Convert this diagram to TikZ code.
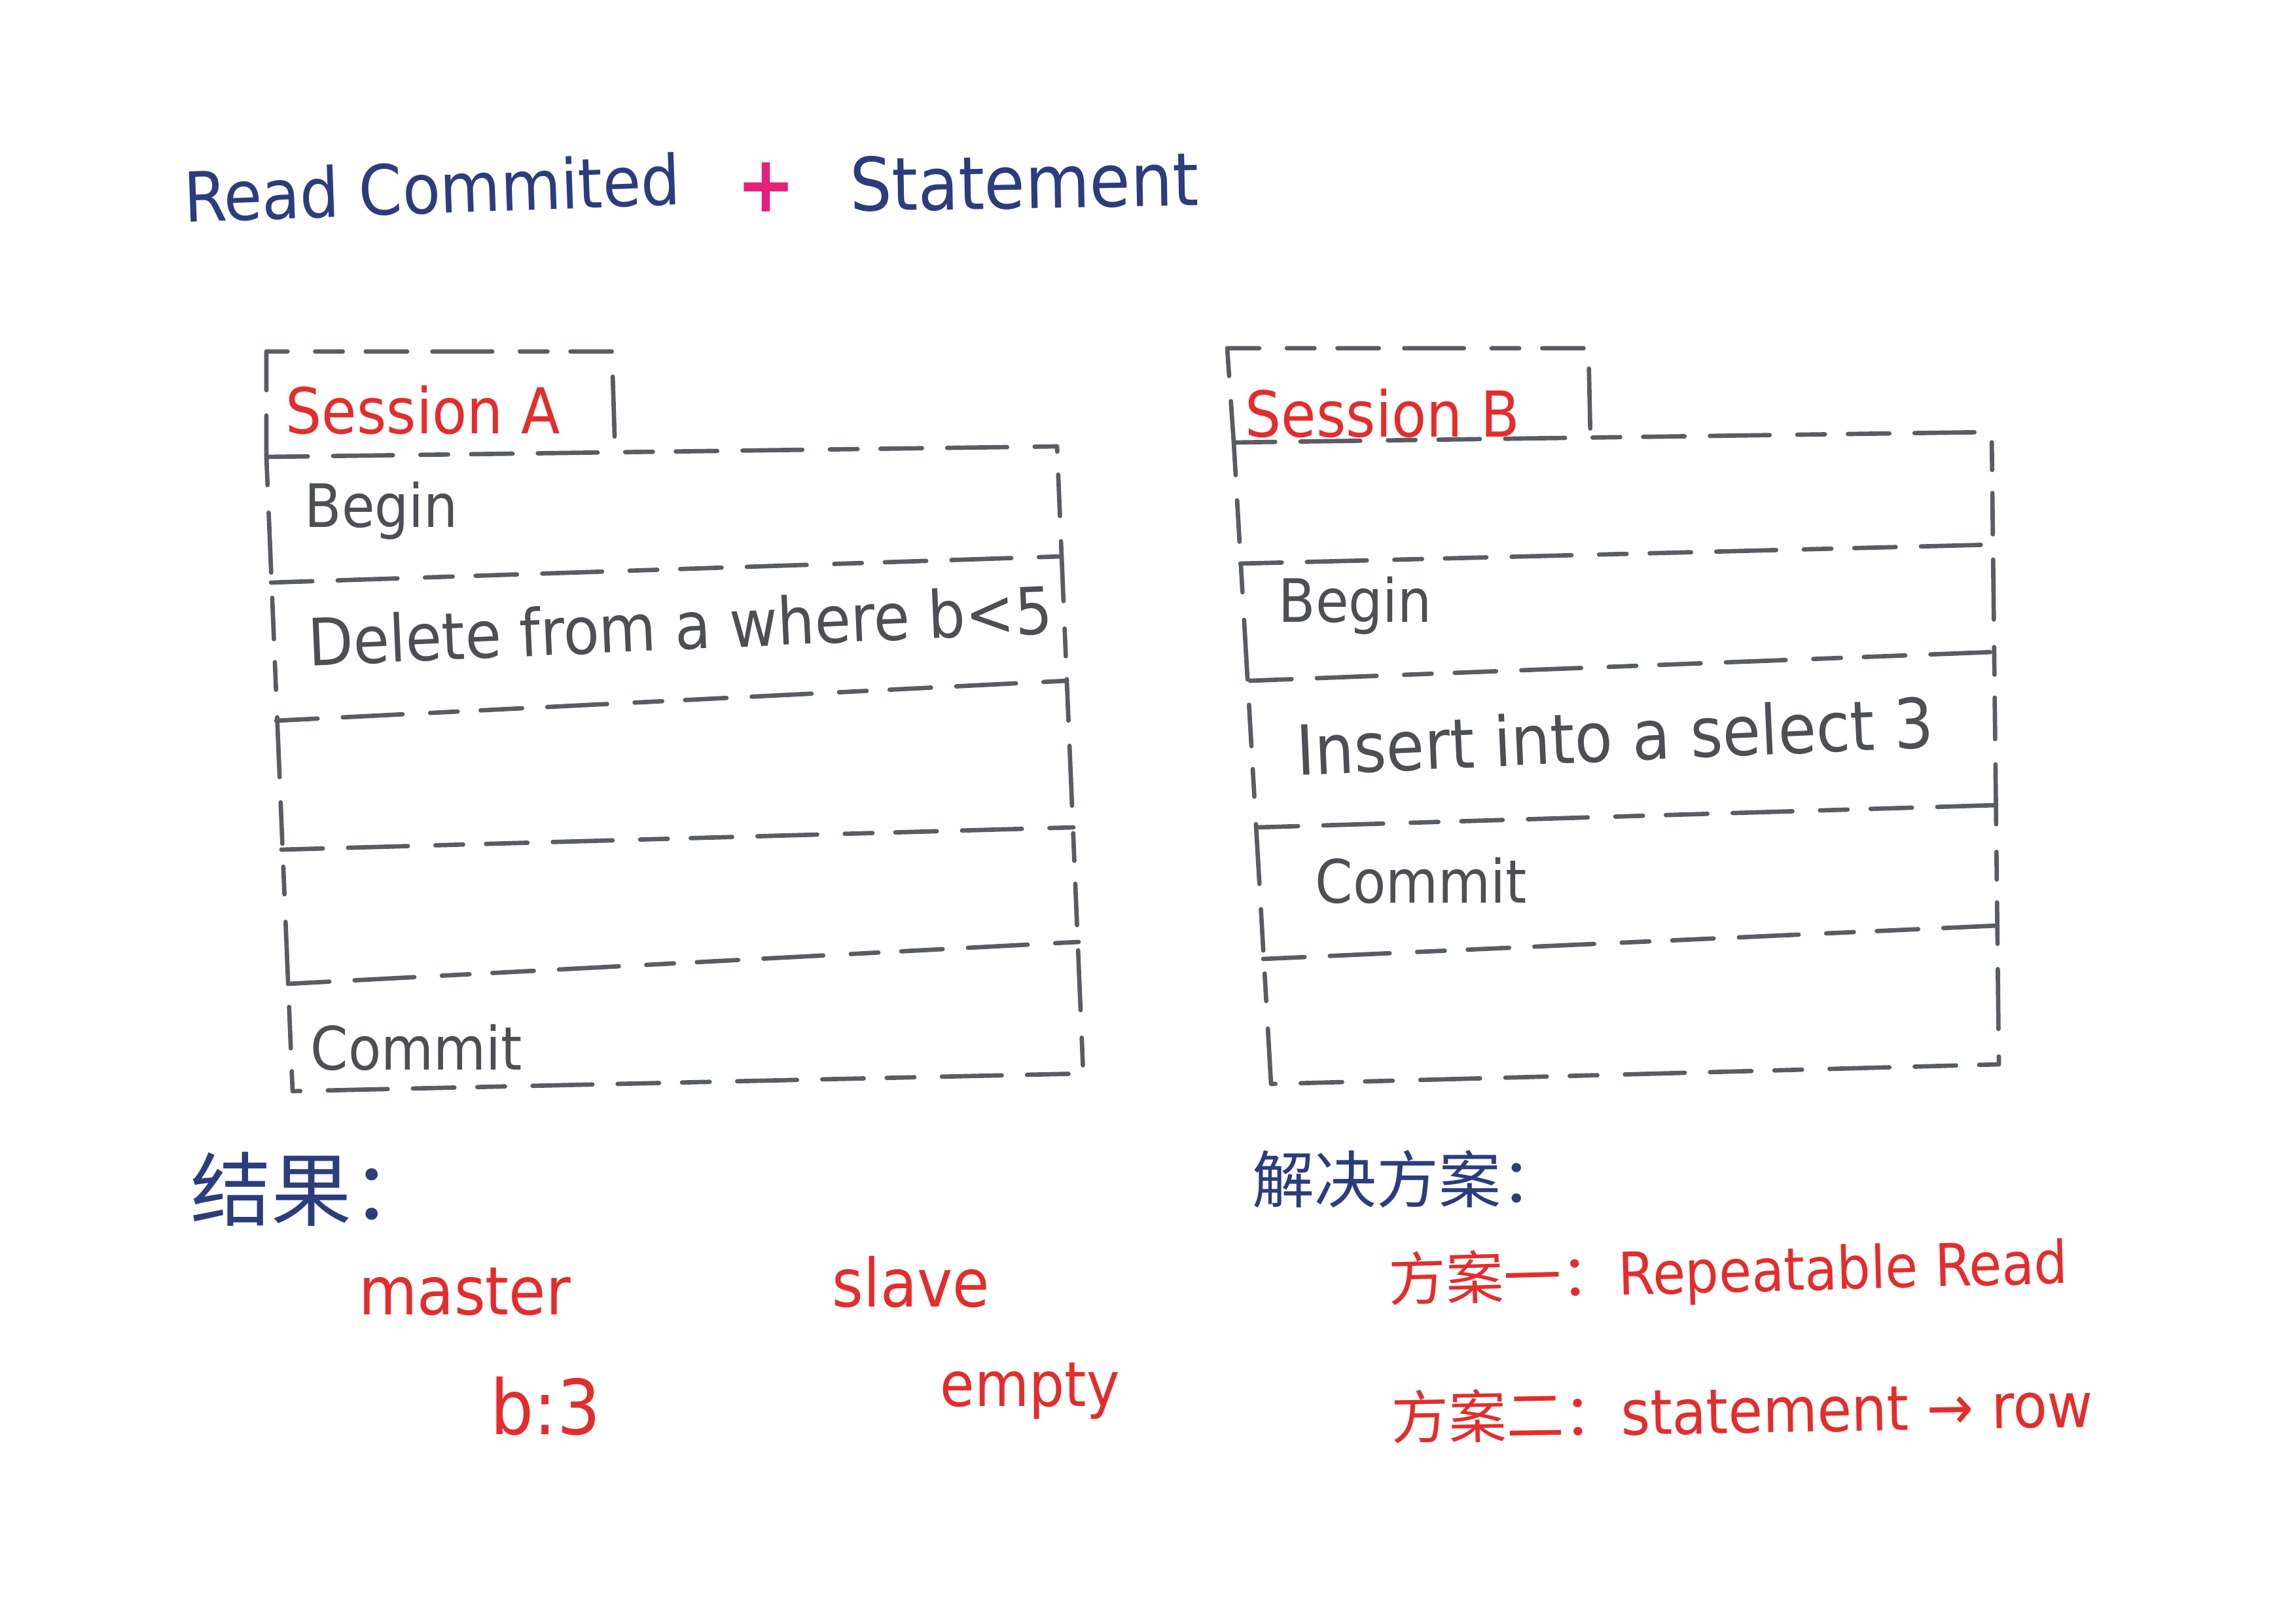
\documentclass[tikz,border=0pt]{standalone}
\usepackage{fontspec}
\setmainfont{DejaVu Sans Condensed}
\newfontfamily\cjk{Noto Sans CJK SC}
\usetikzlibrary{positioning}
\definecolor{ink}{HTML}{4D4F54}
\definecolor{penblue}{HTML}{2B3D7D}
\definecolor{penred}{HTML}{E32D2D}
\definecolor{penpink}{HTML}{E4217D}
\definecolor{rule}{HTML}{595C62}

\begin{document}
\begin{tikzpicture}[
  line cap=round, line join=round,
  hand/.style={draw=rule, line width=1.9pt,
               dash pattern=on 18pt off 11pt on 26pt off 12pt on 12pt off 10pt},
  ttl/.style={penblue, font=\fontsize{30}{32}\selectfont, anchor=west, inner sep=0pt},
  tabtxt/.style={penred, font=\fontsize{27.5}{29}\selectfont, anchor=west, inner sep=0pt},
  rowtxt/.style={ink, font=\fontsize{26}{28}\selectfont, anchor=west, inner sep=0pt},
  head/.style={penblue, font=\cjk\fontsize{35}{37}\selectfont, anchor=west, inner sep=0pt},
  note/.style={penred, font=\fontsize{29}{31}\selectfont, anchor=west, inner sep=0pt}]

\useasboundingbox (0,0) rectangle (35.08,-24.80);

% ==================================================== title
\node[ttl, rotate=2] (rc) at (2.80,-3.00) {Read Commited};
\node[ttl, penpink, font=\bfseries\fontsize{34}{36}\selectfont] (plus) at (11.25,-2.86) {+};
\node[ttl, rotate=1, font=\fontsize{32}{34}\selectfont] (stm) at (12.98,-2.82) {Statement};

% ==================================================== left: session A
\begin{scope}
  % the tab and the frame
  \draw[hand] (4.07,-6.98) -- (4.07,-5.37) -- (9.35,-5.37) -- (9.40,-6.98);
  \draw[hand] (4.07,-6.98) -- (16.15,-6.82) -- (16.55,-16.40) -- (4.47,-16.67) -- cycle;
  \foreach \xa/\ya/\xb/\yb in {4.14/-8.90/16.22/-8.50, 4.22/-11.01/16.30/-10.40,
                               4.30/-12.98/16.40/-12.64, 4.40/-15.03/16.48/-14.39}
    \draw[hand] (\xa,\ya) -- (\xb,\yb);

  \node[tabtxt] (sesA) at (4.36,-6.26) {Session A};
  \node[rowtxt] (beginA) at (4.65,-7.80) {Begin};
  \node[rowtxt, rotate=2.5, font=\fontsize{28.4}{30}\selectfont] (delA) at (4.70,-9.80)
    {Delete from a where b<5};
  \node[rowtxt] (commitA) at (4.74,-16.00) {Commit};
\end{scope}

% ==================================================== right: session B
\begin{scope}
  % the tab and the frame
  \draw[hand] (18.85,-6.76) -- (18.75,-5.32) -- (24.27,-5.32) -- (24.30,-6.72);
  \draw[hand] (18.85,-6.76) -- (30.43,-6.60) -- (30.54,-16.26) -- (19.42,-16.56) -- cycle;
  \foreach \xa/\ya/\xb/\yb in {18.95/-8.61/30.45/-8.32, 19.10/-10.40/30.47/-9.96,
                               19.20/-12.64/30.50/-12.30, 19.30/-14.65/30.52/-14.14}
    \draw[hand] (\xa,\ya) -- (\xb,\yb);

  \node[tabtxt] (sesB) at (19.02,-6.31) {Session B};
  \node[rowtxt] (beginB) at (19.53,-9.25) {Begin};
  \node[rowtxt, rotate=2.5, font=\fontsize{30}{32}\selectfont] (insB) at (19.80,-11.45)
    {Insert into a select 3};
  \node[rowtxt] (commitB) at (20.09,-13.45) {Commit};
\end{scope}

% ==================================================== what happens
\node[head] (result) at (2.91,-18.17) {结果：};
\node[note] (master) at (5.48,-19.73) {master};
\node[note] (slave) at (12.71,-19.58) {slave};
\node[note, font=\fontsize{33}{35}\selectfont] (bval) at (7.49,-21.48) {b:3};
\node[note, font=\fontsize{27}{29}\selectfont] (empty) at (14.36,-21.25) {empty};

% ==================================================== how to fix it
\node[head, font=\cjk\fontsize{27}{29}\selectfont] (fix) at (19.13,-18.01) {解决方案：};
\node[note, rotate=1.5, font=\fontsize{25.6}{27}\selectfont] (fixone) at (21.21,-19.60)
  {{\cjk\fontsize{25}{27}\selectfont 方案一：}Repeatable Read};
\node[note, rotate=1, font=\fontsize{27}{29}\selectfont] (fixtwo) at (21.25,-21.65)
  {{\cjk\fontsize{25}{27}\selectfont 方案二：}statement → row};

\end{tikzpicture}
\end{document}
